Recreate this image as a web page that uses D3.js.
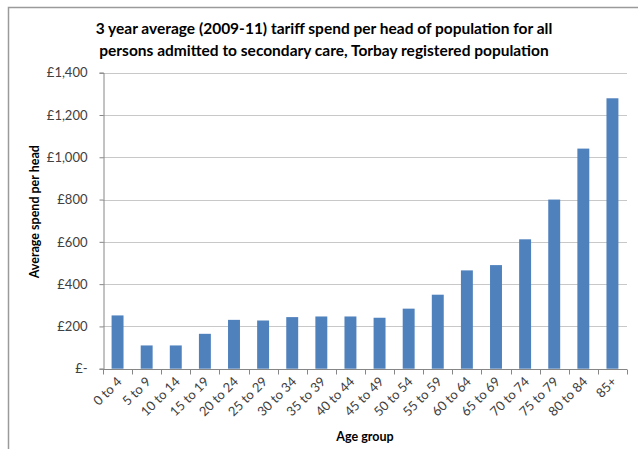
<!DOCTYPE html>
<html>
<head>
<meta charset="utf-8">
<script src="https://cdn.jsdelivr.net/npm/d3@7"></script>
<style>
  html, body { margin: 0; padding: 0; background: #fff; }
  svg { display: block; font-family: Lato, "Open Sans", sans-serif; }
</style>
</head>
<body>
<svg id="chart" width="638" height="449"></svg>
<script>
// Age groups and 3-year average tariff spend per head (£)
const ageGroups = ["0 to 4", "5 to 9", "10 to 14", "15 to 19", "20 to 24", "25 to 29",
  "30 to 34", "35 to 39", "40 to 44", "45 to 49", "50 to 54", "55 to 59",
  "60 to 64", "65 to 69", "70 to 74", "75 to 79", "80 to 84", "85+"];
const spendPerHead = [252, 110, 110, 165, 231, 228, 244, 247, 247, 241,
  284, 350, 465, 490, 612, 800, 1041, 1279];
const yTicks = [0, 200, 400, 600, 800, 1000, 1200, 1400];
const titleLines = [
  "3 year average (2009-11) tariff spend per head of population  for all",
  "persons admitted to secondary care, Torbay registered population"
];
const yAxisTitle = "Average spend per head";
const xAxisTitle = "Age group";

const svg = d3.select("#chart");
const plot = { left: 103, right: 627, top: 72.7, bottom: 368.7 };

// Chart-area frame
svg.append("rect")
  .attr("x", 8.5).attr("y", 7.5)
  .attr("width", 700).attr("height", 500)
  .attr("fill", "none").attr("stroke", "#9a9a9a").attr("stroke-width", 1.5);

const x = d3.scaleBand()
  .domain(ageGroups)
  .range([plot.left, plot.right])
  .paddingInner(0.59).paddingOuter(0.295);

const y = d3.scaleLinear()
  .domain([0, 1400])
  .range([plot.bottom, plot.top]);

const fmt = v => v === 0 ? "£-" : "£" + d3.format(",")(v);

// Horizontal gridlines
svg.append("g")
  .selectAll("line")
  .data(yTicks.filter(d => d > 0))
  .join("line")
  .attr("x1", plot.left).attr("x2", plot.right)
  .attr("y1", d => Math.round(y(d)) + 0.5).attr("y2", d => Math.round(y(d)) + 0.5)
  .attr("stroke", "#c8c8c8").attr("stroke-width", 1);

// Bars
svg.append("g")
  .selectAll("rect")
  .data(ageGroups.map((g, i) => ({ g, v: spendPerHead[i] })))
  .join("rect")
  .attr("x", d => x(d.g))
  .attr("width", x.bandwidth())
  .attr("y", d => y(d.v))
  .attr("height", d => y(0) - y(d.v))
  .attr("fill", "#4f81bd");

// Y axis
const yAxis = svg.append("g")
  .attr("transform", `translate(${plot.left + 0.5},0)`)
  .call(d3.axisLeft(y).tickValues(yTicks).tickFormat(fmt).tickSize(4).tickPadding(12));
yAxis.select(".domain").attr("stroke", "#868686");
yAxis.selectAll(".tick line").attr("stroke", "#868686");
yAxis.selectAll(".tick text")
  .attr("fill", "#404040")
  .style("font-size", "13px")
  .style("font-family", "Lato, sans-serif");

// X axis: ticks sit between categories
const xAxisG = svg.append("g")
  .attr("transform", `translate(0,${Math.round(plot.bottom) + 0.5})`);
xAxisG.append("line")
  .attr("x1", plot.left).attr("x2", plot.right)
  .attr("stroke", "#868686");
xAxisG.selectAll("line.tk")
  .data(d3.range(ageGroups.length + 1))
  .join("line")
  .attr("class", "tk")
  .attr("x1", i => Math.round(plot.left + i * (plot.right - plot.left) / ageGroups.length) + 0.5)
  .attr("x2", i => Math.round(plot.left + i * (plot.right - plot.left) / ageGroups.length) + 0.5)
  .attr("y1", 0).attr("y2", 5)
  .attr("stroke", "#868686");

xAxisG.selectAll("text")
  .data(ageGroups)
  .join("text")
  .attr("transform", d => `translate(${x(d) + x.bandwidth() / 2 + 5},${13}) rotate(-45)`)
  .attr("text-anchor", "end")
  .attr("fill", "#404040")
  .style("font-size", "13px")
  .text(d => d);

// Titles
svg.append("g")
  .selectAll("text")
  .data(titleLines)
  .join("text")
  .attr("x", 324)
  .attr("y", (d, i) => 34 + i * 22)
  .attr("text-anchor", "middle")
  .attr("fill", "#000")
  .style("font-size", "15.5px")
  .style("font-weight", "bold")
  .text(d => d);

svg.append("text")
  .attr("transform", `translate(39,${(plot.top + plot.bottom) / 2 - 9}) rotate(-90)`)
  .attr("text-anchor", "middle")
  .style("font-size", "12.5px")
  .style("font-weight", "bold")
  .text(yAxisTitle);

svg.append("text")
  .attr("x", (plot.left + plot.right) / 2)
  .attr("y", 441)
  .attr("text-anchor", "middle")
  .style("font-size", "12.5px")
  .style("font-weight", "bold")
  .text(xAxisTitle);
</script>
</body>
</html>
